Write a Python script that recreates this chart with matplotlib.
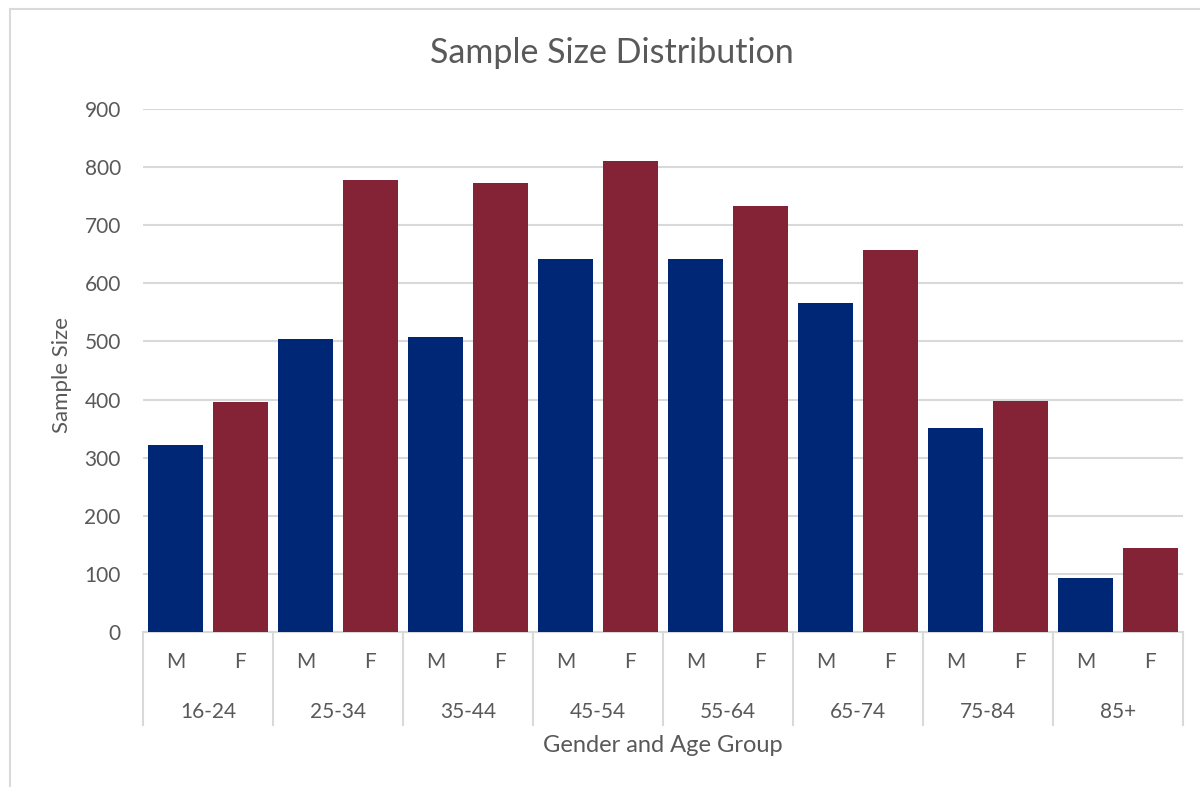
import matplotlib.pyplot as plt
from matplotlib.patches import Rectangle

age_groups = ["16-24", "25-34", "35-44", "45-54", "55-64", "65-74", "75-84", "85+"]
male = [322, 504, 508, 642, 642, 566, 351, 93]
female = [396, 778, 773, 810, 733, 657, 398, 145]
genders = ["M", "F"]

blue = "#002776"
red = "#832335"
text_col = "#595959"
grid_col = "#d9d9d9"

plt.rcParams['font.family'] = ['Lato', 'DejaVu Sans']

fig = plt.figure(figsize=(12, 7.87), dpi=100)
ax = fig.add_axes([143 / 1200, 1 - 632 / 787, 1040 / 1200, 523 / 787])

# chart border (only left/top visible in the crop)
fig.patches.append(Rectangle((10 / 1200, -0.02), 1.1, 1 - 9 / 787 + 0.02,
                             transform=fig.transFigure, fill=False,
                             edgecolor=grid_col, linewidth=1.5))

values = []
colors = []
for m, f in zip(male, female):
    values += [m, f]
    colors += [blue, red]
xpos = list(range(len(values)))

ax.bar(xpos, values, width=0.846, color=colors, zorder=3)

ax.set_xlim(-0.5, len(values) - 0.5)
ax.set_ylim(0, 900)
ax.set_yticks(range(0, 901, 100))
ax.yaxis.grid(True, color=grid_col, linewidth=1.5, zorder=0)
ax.tick_params(axis='y', length=0, pad=16, labelsize=15, labelcolor=text_col)
ax.set_xticks([])
for s in ["top", "right", "left"]:
    ax.spines[s].set_visible(False)
ax.spines["bottom"].set_color(grid_col)
ax.spines["bottom"].set_linewidth(1.5)

trans = ax.get_xaxis_transform()
h = 523.0
for i, x in enumerate(xpos):
    ax.text(x, -30 / h, genders[i % 2], transform=trans, ha='center', va='center',
            fontsize=15, color=text_col)
for g, name in enumerate(age_groups):
    ax.text(2 * g + 0.5, -80 / h, name, transform=trans, ha='center', va='center',
            fontsize=15, color=text_col)
for g in range(len(age_groups) + 1):
    ax.plot([2 * g - 0.5, 2 * g - 0.5], [0, -93 / h], transform=trans,
            color=grid_col, linewidth=1.5, clip_on=False)

ax.text(0.5, -114 / h, "Gender and Age Group", transform=ax.transAxes,
        ha='center', va='center', fontsize=17, color=text_col)
fig.text(62 / 1200, 1 - 375 / 787, "Sample Size", rotation=90, ha='center',
         va='center', fontsize=16, color=text_col)
fig.text(612 / 1200, 1 - 53 / 787, "Sample Size Distribution", ha='center',
         va='center', fontsize=24.5, color=text_col)

fig.savefig("out.png", dpi=100)
